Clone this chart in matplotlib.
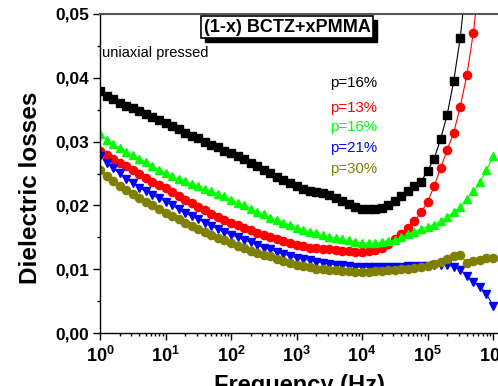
import numpy as np
import matplotlib
matplotlib.use("Agg")
import matplotlib.pyplot as plt
from matplotlib.ticker import FixedLocator, FuncFormatter, LogLocator, NullFormatter, MultipleLocator
from matplotlib.patches import Rectangle

plt.rcParams['font.family'] = ['Liberation Sans', 'DejaVu Sans']
plt.rcParams['mathtext.fontset'] = 'custom'
plt.rcParams['mathtext.bf'] = 'Liberation Sans:bold'
plt.rcParams['mathtext.rm'] = 'Liberation Sans:bold'

# ---- data ----
log_freq = [0.0, 0.1, 0.2, 0.3, 0.4, 0.5, 0.6, 0.7, 0.8, 0.9,
            1.0, 1.1, 1.2, 1.3, 1.4, 1.5, 1.6, 1.7, 1.8, 1.9,
            2.0, 2.1, 2.2, 2.3, 2.4, 2.5, 2.6, 2.7, 2.8, 2.9,
            3.0, 3.1, 3.2, 3.3, 3.4, 3.5, 3.6, 3.7, 3.8, 3.9,
            4.0, 4.1, 4.2, 4.3, 4.4, 4.5, 4.6, 4.7, 4.8, 4.9,
            5.0, 5.1, 5.2, 5.3, 5.4, 5.5, 5.6, 5.7, 5.8, 5.9,
            6.0]

loss_p16_uniaxial = [.0379, .0372, .0366, .0361, .0356, .0352, .0348, .0343, .0338, .0334,
                     .0329, .0324, .0319, .0314, .0309, .0305, .0300, .0295, .0291, .0286,
                     .0282, .0277, .0272, .0266, .0261, .0256, .0250, .0245, .0240, .0235,
                     .0230, .0226, .0223, .0221, .0219, .0216, .0212, .0207, .0202, .0198,
                     .0195, .0194, .0194, .0196, .0200, .0207, .0214, .0223, .0230, .0237,
                     .0254, .0273, .0304, .0342, .0395, .0463, .0560]

loss_p13 = [.0286, .0279, .0273, .0267, .0261, .0255, .0249, .0243, .0237, .0232,
            .0227, .0221, .0215, .0209, .0203, .0198, .0193, .0187, .0182, .0177,
            .0173, .0169, .0165, .0161, .0157, .0153, .0150, .0147, .0144, .0141,
            .0138, .0136, .0134, .0133, .0132, .0131, .0130, .0129, .0128, .0127,
            .0127, .0128, .0130, .0134, .0140, .0147, .0155, .0164, .0175, .0189,
            .0205, .0230, .0258, .0287, .0314, .0355, .0404, .0471, .0560]

loss_p16 = [.0312, .0303, .0296, .0290, .0284, .0279, .0273, .0268, .0262, .0256,
            .0251, .0246, .0242, .0238, .0234, .0230, .0226, .0222, .0218, .0214,
            .0209, .0204, .0200, .0195, .0190, .0186, .0181, .0177, .0173, .0169,
            .0165, .0162, .0159, .0156, .0153, .0151, .0149, .0147, .0145, .0143,
            .0141, .0141, .0141, .0142, .0144, .0146, .0150, .0155, .0159, .0163,
            .0166, .0170, .0175, .0182, .0189, .0198, .0210, .0222, .0236, .0255,
            .0277]

loss_p21 = [.0278, .0267, .0258, .0250, .0242, .0235, .0228, .0222, .0216, .0211,
            .0206, .0200, .0194, .0188, .0183, .0178, .0173, .0168, .0163, .0158,
            .0154, .0150, .0146, .0142, .0138, .0134, .0131, .0127, .0124, .0121,
            .0118, .0116, .0114, .0112, .0110, .0108, .0107, .0106, .0105, .0104,
            .0103, .0103, .0103, .0103, .0104, .0104, .0104, .0105, .0105, .0105,
            .0105, .0106, .0107, .0106, .0104, .0099, .0090, .0080, .0072, .0061,
            .0043]

loss_p30 = [.0255, .0246, .0238, .0231, .0224, .0218, .0212, .0206, .0200, .0194,
            .0188, .0183, .0178, .0173, .0168, .0163, .0158, .0153, .0149, .0145,
            .0141, .0137, .0133, .0129, .0126, .0123, .0120, .0116, .0113, .0110,
            .0107, .0105, .0103, .0101, .0100, .0099, .0098, .0097, .0097, .0096,
            .0096, .0096, .0097, .0097, .0098, .0099, .0100, .0101, .0102, .0103,
            .0105, .0108, .0112, .0116, .0121, .0123, .0110, .0113, .0115, .0117,
            .0118]

labels = ["p=16%", "p=13%", "p=16%", "p=21%", "p=30%"]
colors = ["#000000", "#ff0000", "#00ff00", "#0000ff", "#808000"]
markers = ["s", "o", "^", "v", "o"]
series = [loss_p16_uniaxial, loss_p13, loss_p16, loss_p21, loss_p30]

y_ticks = [0.00, 0.01, 0.02, 0.03, 0.04, 0.05]
x_ticks = [1e0, 1e1, 1e2, 1e3, 1e4, 1e5, 1e6]

freq = 10 ** np.array(log_freq)

W, H = 498, 386
fig = plt.figure(figsize=(W / 100, H / 100), dpi=100)
ax = fig.add_axes([100 / W, 1 - 333 / H, 398 / W, (333 - 14) / H])

for vals, c, m in zip(series, colors, markers):
    n = len(vals)
    ms = 5.2 if m == "s" else 5.9
    ax.plot(freq[:n], vals, color=c, marker=m, ms=ms, lw=0.8, mec=c, mfc=c)

ax.set_xscale("log")
ax.set_xlim(1, 10 ** 6.076)
ax.set_ylim(0, 0.05)

ax.xaxis.set_major_locator(FixedLocator(x_ticks))
ax.xaxis.set_minor_locator(LogLocator(base=10, subs=np.arange(2, 10), numticks=20))
ax.xaxis.set_minor_formatter(NullFormatter())
ax.xaxis.set_major_formatter(FuncFormatter(lambda v, p: r"$\mathbf{10^{%d}}$" % round(np.log10(v))))

ax.yaxis.set_major_locator(FixedLocator(y_ticks))
ax.yaxis.set_minor_locator(MultipleLocator(0.005))
ax.yaxis.set_major_formatter(FuncFormatter(lambda v, p: ("%.2f" % v).replace(".", ",")))

ax.tick_params(which="major", direction="out", length=5, width=1.0, labelsize=12.5, pad=2.5)
ax.tick_params(which="minor", direction="out", length=2.5, width=1.0)
ax.tick_params(axis="x", which="major", labelsize=13, pad=4)
for lab in ax.get_yticklabels():
    lab.set_fontweight("bold")

ax.spines["right"].set_visible(False)
ax.spines["top"].set_color("#555555")
ax.spines["top"].set_linewidth(1.5)
ax.spines["left"].set_linewidth(1.0)
ax.spines["bottom"].set_linewidth(1.0)

ax.set_ylabel("Dielectric losses", fontsize=17.5, fontweight="bold")
ax.yaxis.set_label_coords(-0.145, 0.455)
ax.set_xlabel("Frequency (Hz)", fontsize=17, fontweight="bold", labelpad=6)

# title box with shadow
tx, ty = 287 / W, 1 - 27 / H
title = fig.text(tx, ty, "(1-x) BCTZ+xPMMA", ha="center", va="center",
                 fontsize=13, fontweight="bold", color="black", zorder=5,
                 bbox=dict(boxstyle="square,pad=0.15", fc="white", ec="black", lw=1.2))

fig.text(102 / W, 1 - 57 / H, "uniaxial pressed", ha="left", va="baseline", fontsize=10.5)

label_base = [87, 112, 131, 152, 173]
for lab, c, yb in zip(labels, colors, label_base):
    fig.text(330 / W, 1 - yb / H, lab, color=c, ha="left", va="baseline", fontsize=10.8)

fig.canvas.draw()
bb = title.get_bbox_patch().get_window_extent()
off = 4
shadow = Rectangle((bb.x0 + off, bb.y0 - off), bb.width, bb.height,
                   transform=None, facecolor="black", edgecolor="black", zorder=4)
fig.patches.append(shadow)

fig.savefig("out.png", dpi=100)
